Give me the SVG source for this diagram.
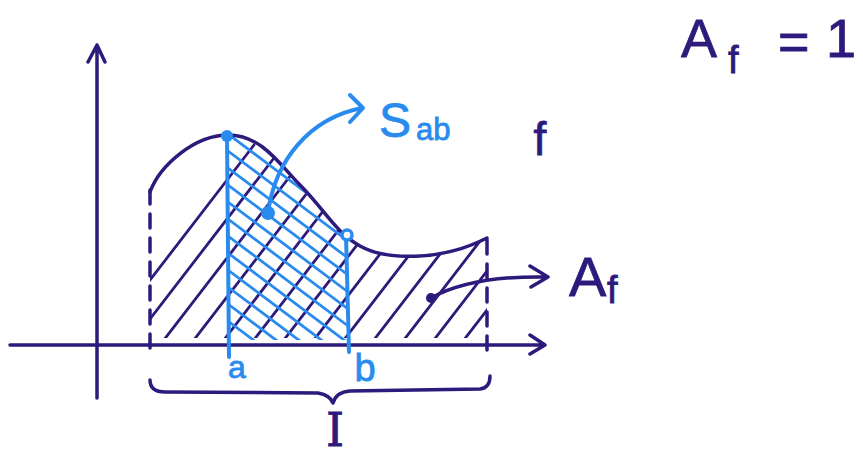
<svg xmlns="http://www.w3.org/2000/svg" width="863" height="456" viewBox="0 0 863 456">
<style>
.dk{fill:none;stroke:#2d1a7c;stroke-width:3.5;stroke-linecap:round;stroke-linejoin:round}
.bl{fill:none;stroke:#2a8bef;stroke-width:4;stroke-linecap:round;stroke-linejoin:round}
.dh{fill:none;stroke:#2d1a7c;stroke-width:2.8;stroke-linecap:round}
.bh{fill:none;stroke:#2a8bef;stroke-width:2.8;stroke-linecap:round}
.tdk{fill:#2d1a7c;stroke:#2d1a7c;stroke-width:0.8;font-family:"Liberation Sans",Arial,sans-serif}
.tbl{fill:#2a8bef;stroke:#2a8bef;stroke-width:0.8;font-family:"Liberation Sans",Arial,sans-serif}
</style>
<defs>
<clipPath id="darea"><path d="M150,192 C160,165 195,135 228,135 C262,135 280,165 300,185 C325,210 335,232 360,246 C385,260 440,262 487,238 L487,338 L150,338 Z"/></clipPath>
<clipPath id="barea"><path d="M228,135 C262,135 280,165 300,185 C325,210 335,232 348,240 L348,340 L228,340 Z"/></clipPath>
</defs>
<rect width="863" height="456" fill="#fff"/>
<g id="axes">
<path class="dk" d="M97,398 L97,45 M88,62 L97,45 L105,62"/>
<path class="dk" d="M10,345 L545,345 M530,335 L545,345 L530,354"/>
</g>
<g id="hatch-dark" clip-path="url(#darea)">
<path class="dh" d="M100,345 L254,145 M130,345 L284,145 M160,345 L314,145 M190,345 L344,145 M220,345 L374,145 M250,345 L404,145 M280,345 L434,145 M310,345 L464,145 M340,345 L494,145 M370,345 L524,145 M400,345 L554,145 M430,345 L584,145 M460,345 L614,145"/>
</g>
<g id="hatch-blue" clip-path="url(#barea)">
<path class="bh" d="M228,100 L348,190 M228,117 L348,207 M228,134 L348,224 M228,151 L348,241 M228,168 L348,258 M228,185 L348,275 M228,202 L348,292 M228,219 L348,309 M228,236 L348,326 M228,253 L348,343 M228,270 L348,360 M228,287 L348,377 M228,304 L348,394 M228,321 L348,411"/>
</g>
<g id="curve-f">
<path class="dk" d="M150,192 C160,165 195,135 228,135 C262,135 280,165 300,185 C325,210 335,232 360,246 C385,260 440,262 487,238"/>
<path class="dk" stroke-dasharray="14,10" d="M150,190 L150,355"/>
<path class="dk" stroke-dasharray="14,10" d="M487,240 L487,352"/>
</g>
<g id="interval-ab">
<path class="bl" d="M227,136 L229,357"/>
<path class="bl" d="M346,235 L349,352"/>
<circle cx="227" cy="136" r="6" fill="#2a8bef"/>
<circle cx="347" cy="235" r="5" fill="#fff" stroke="#2a8bef" stroke-width="3.5"/>
<text class="tbl" x="237" y="378" font-size="32" text-anchor="middle">a</text>
<text class="tbl" x="365" y="381" font-size="38" text-anchor="middle">b</text>
</g>
<g id="label-Sab">
<circle cx="268" cy="213" r="7" fill="#2a8bef"/>
<path class="bl" d="M268,213 C275,160 310,118 362,108 M350,95 L363,108 L350,122"/>
<text class="tbl" x="379" y="137" font-size="48">S</text>
<text class="tbl" x="416" y="140" font-size="31">ab</text>
</g>
<g id="label-f">
<text class="tdk" x="540" y="155" font-size="46" text-anchor="middle">f</text>
</g>
<g id="label-Af">
<circle cx="431" cy="298" r="5" fill="#2d1a7c"/>
<path class="dk" d="M431,298 C460,282 500,276 548,277 M530,266 L548,277 L531,287"/>
<text class="tdk" x="569" y="296" font-size="56">A</text>
<text class="tdk" x="607" y="303" font-size="38">f</text>
</g>
<g id="brace-I">
<path class="dk" d="M150,380 Q150,392 165,392 L318,393 Q330,395 333,403 Q336,392 350,391 L480,389 Q490,388 490,376"/>
<text class="tdk" x="335" y="446" font-size="46" text-anchor="middle" style="font-family:'DejaVu Serif',serif">I</text>
</g>
<g id="eq">
<text class="tdk" x="681" y="57" font-size="54">A</text>
<text class="tdk" x="728" y="73" font-size="38">f</text>
<text class="tdk" x="778" y="60" font-size="54">=</text>
<text class="tdk" x="826" y="57" font-size="54">1</text>
</g>
</svg>
